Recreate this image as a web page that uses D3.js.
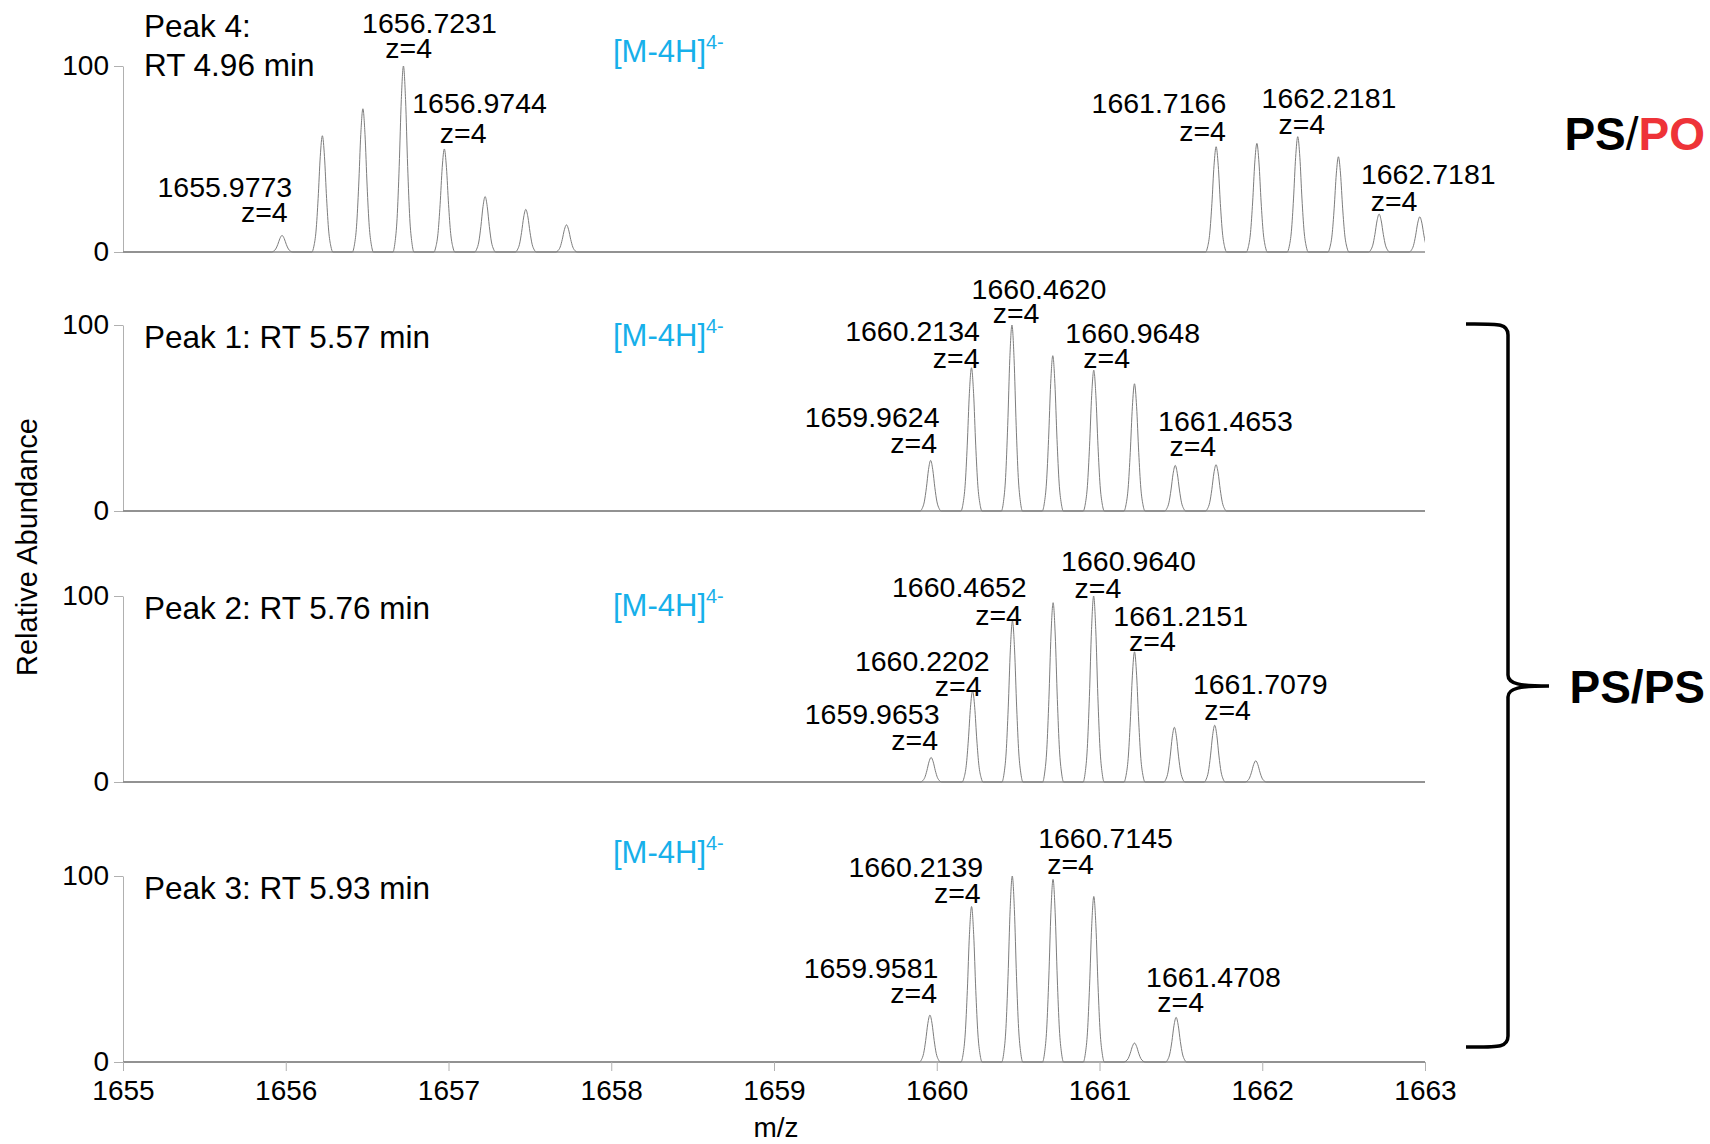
<!DOCTYPE html>
<html>
<head>
<meta charset="utf-8">
<script src="https://cdn.jsdelivr.net/npm/d3@7"></script>
<style>
  body { margin: 0; background: #fff; }
  text { font-family: "Liberation Sans", Arial, Helvetica, sans-serif; }
</style>
</head>
<body>
<div id="chart"></div>
<script>
// ---- data ----
const mzDomain = [1655, 1663];
const xTicks = [1655, 1656, 1657, 1658, 1659, 1660, 1661, 1662, 1663];
const yTicks = [0, 100];

// [m/z, relative abundance]
const peak4Spectrum = [
  [1655.9773, 8.9], [1656.2250, 62.5], [1656.4740, 77], [1656.7231, 100],
  [1656.9744, 55.4], [1657.2250, 29.8], [1657.4750, 22.9], [1657.7250, 14.6],
  [1661.7166, 56.6], [1661.9670, 58.4], [1662.2181, 62], [1662.4680, 51.2],
  [1662.7181, 20.4], [1662.9680, 18.9]
];
const peak1Spectrum = [
  [1659.9624, 27.2], [1660.2134, 77], [1660.4620, 100], [1660.7130, 83.5],
  [1660.9648, 75.7], [1661.2150, 68.4], [1661.4653, 24.5], [1661.7160, 24.9]
];
const peak2Spectrum = [
  [1659.9653, 13.2], [1660.2202, 49], [1660.4652, 86.6], [1660.7150, 96.4],
  [1660.9640, 100], [1661.2151, 70], [1661.4600, 29.4], [1661.7079, 30.5],
  [1661.9600, 11.4]
];
const peak3Spectrum = [
  [1659.9581, 25.2], [1660.2139, 83.6], [1660.4640, 100], [1660.7145, 98.2],
  [1660.9650, 89], [1661.2150, 10.2], [1661.4708, 24]
];

// peak annotations: [text, m/z of text centre, abundance of text centre, m/z of "z=4", abundance of "z=4"]
const peak4Labels = [
  ["1655.9773", 1655.626, 34.9, 1655.868, 21.3],
  ["1656.7231", 1656.883, 123, 1656.755, 109.5],
  ["1656.9744", 1657.191, 79.9, 1657.090, 63.9],
  ["1661.7166", 1661.365, 79.9, 1661.633, 65],
  ["1662.2181", 1662.410, 82.8, 1662.243, 68.6],
  ["1662.7181", 1663.020, 42, 1662.810, 27.2]
];
const peak1Labels = [
  ["1659.9624", 1659.603, 50.6, 1659.858, 36.5],
  ["1660.2134", 1659.851, 97, 1660.119, 82.4],
  ["1660.4620", 1660.628, 119.4, 1660.487, 106.5],
  ["1660.9648", 1661.204, 95.9, 1661.044, 82.4],
  ["1661.4653", 1661.774, 48.2, 1661.573, 34.7]
];
const peak2Labels = [
  ["1659.9653", 1659.603, 36.5, 1659.864, 22.4],
  ["1660.2202", 1659.911, 65.3, 1660.132, 51.8],
  ["1660.4652", 1660.139, 104.7, 1660.380, 90],
  ["1660.9640", 1661.178, 118.8, 1660.990, 104.1],
  ["1661.2151", 1661.499, 89.4, 1661.325, 75.9],
  ["1661.7079", 1661.988, 52.9, 1661.787, 38.8]
];
const peak3Labels = [
  ["1659.9581", 1659.596, 50.6, 1659.858, 37.2],
  ["1660.2139", 1659.871, 104.7, 1660.126, 90.7],
  ["1660.7145", 1661.037, 120.3, 1660.822, 106.4],
  ["1661.4708", 1661.700, 45.9, 1661.499, 32]
];

const panelTitles = [["Peak 4:", "RT 4.96 min"], ["Peak 1: RT 5.57 min"], ["Peak 2: RT 5.76 min"], ["Peak 3: RT 5.93 min"]];
const ionLabel = "[M-4H]";
const ionCharge = "4-";
const zLabel = "z=4";

// ---- layout ----
const W = 1710, H = 1144;
const xLeft = 123, xRight = 1425;
const panelBottom = [252, 511, 782, 1062];
const panelH = 186;
// title / ion label heights in abundance units, per panel
const titleY = [[115.6, 94.6], [87.6], [87.4], [87.6]];
const ionY = [102, 88.7, 89.5, 107];

// relative peak profile (shape of one isotope peak), half width in m/z
const peakHalfWidth = 0.065;
const peakShape = [[-1, 0], [-0.8, 0.05], [-0.6, 0.18], [-0.4, 0.46], [-0.2, 0.82], [0, 1],
                   [0.2, 0.82], [0.4, 0.46], [0.6, 0.18], [0.8, 0.05], [1, 0]];

const panels = [
  {spectrum: peak4Spectrum, labels: peak4Labels},
  {spectrum: peak1Spectrum, labels: peak1Labels},
  {spectrum: peak2Spectrum, labels: peak2Labels},
  {spectrum: peak3Spectrum, labels: peak3Labels}
];

const svg = d3.select('#chart').append('svg')
  .attr('width', W).attr('height', H)
  .style('background', '#fff');

const x = d3.scaleLinear().domain(mzDomain).range([xLeft, xRight]);

svg.append('clipPath').attr('id', 'plotclip')
  .append('rect').attr('x', xLeft).attr('y', 0).attr('width', xRight - xLeft).attr('height', H);

panels.forEach((p, i) => {
  const y = d3.scaleLinear().domain([0, 100]).range([panelBottom[i], panelBottom[i] - panelH]);
  const g = svg.append('g').attr('class', 'panel');

  // y axis
  const yAxis = d3.axisLeft(y).tickValues(yTicks).tickSize(9).tickSizeOuter(0).tickPadding(5);
  const ya = g.append('g').attr('transform', `translate(${xLeft},0)`).call(yAxis);
  ya.select('.domain').attr('stroke', '#b0b0b0');
  ya.selectAll('.tick line').attr('stroke', '#b0b0b0');
  ya.selectAll('.tick text').attr('font-size', 28).attr('fill', '#000')
    .attr('font-family', '"Liberation Sans", Arial, sans-serif');

  // baseline
  g.append('line')
    .attr('x1', x(mzDomain[0])).attr('x2', x(mzDomain[1]))
    .attr('y1', y(0)).attr('y2', y(0))
    .attr('stroke', '#a8a8a8').attr('stroke-width', 2);

  // spectrum trace
  const pts = [[mzDomain[0], 0]];
  p.spectrum.slice().sort((a, b) => a[0] - b[0]).forEach(([mz, ab]) => {
    peakShape.forEach(([u, v]) => pts.push([mz + u * peakHalfWidth, ab * v]));
  });
  pts.push([mzDomain[1] + 0.2, 0]);
  const line = d3.line().x(d => x(d[0])).y(d => y(d[1])).curve(d3.curveMonotoneX);
  g.append('path').datum(pts)
    .attr('d', line)
    .attr('clip-path', 'url(#plotclip)')
    .attr('fill', 'none').attr('stroke', '#7d7d7d').attr('stroke-width', 1);

  // peak annotations
  const lab = g.selectAll('.ann').data(p.labels).enter().append('g').attr('class', 'ann');
  lab.append('text')
    .attr('x', d => x(d[1])).attr('y', d => y(d[2]))
    .attr('text-anchor', 'middle').attr('dominant-baseline', 'central')
    .attr('font-size', 28.5).text(d => d[0]);
  lab.append('text')
    .attr('x', d => x(d[3])).attr('y', d => y(d[4]))
    .attr('text-anchor', 'middle').attr('dominant-baseline', 'central')
    .attr('font-size', 28.5).text(zLabel);

  // panel title
  panelTitles[i].forEach((t, k) => {
    g.append('text').attr('x', 144).attr('y', y(titleY[i][k]))
      .attr('font-size', 31.5).text(t);
  });

  // ion label
  const ion = g.append('text').attr('x', 613).attr('y', y(ionY[i]))
    .attr('font-size', 31).attr('fill', '#17b0ea');
  ion.append('tspan').text(ionLabel);
  ion.append('tspan').attr('dy', -13).attr('font-size', 20).text(ionCharge);
});

// bottom x axis
const xAxis = d3.axisBottom(x).tickValues(xTicks).tickFormat(d3.format('d'))
  .tickSize(9).tickSizeOuter(0).tickPadding(9);
const xa = svg.append('g').attr('transform', `translate(0,${panelBottom[3]})`).call(xAxis);
xa.select('.domain').remove();
xa.selectAll('.tick line').attr('stroke', '#b0b0b0');
xa.selectAll('.tick text').attr('font-size', 28).attr('fill', '#000')
  .attr('font-family', '"Liberation Sans", Arial, sans-serif');

svg.append('text').attr('x', 776).attr('y', 1137)
  .attr('text-anchor', 'middle').attr('font-size', 28).text('m/z');

svg.append('text')
  .attr('transform', 'translate(37,547) rotate(-90)')
  .attr('text-anchor', 'middle').attr('font-size', 29).text('Relative Abundance');

// right-hand labels
const psPo = svg.append('text').attr('x', 1705).attr('y', 150)
  .attr('text-anchor', 'end').attr('font-size', 46).attr('font-weight', 'bold');
psPo.append('tspan').text('PS');
psPo.append('tspan').attr('font-weight', 'normal').text('/');
psPo.append('tspan').attr('fill', '#ee3338').text('PO');

svg.append('text').attr('x', 1705).attr('y', 703)
  .attr('text-anchor', 'end').attr('font-size', 46).attr('font-weight', 'bold')
  .text('PS/PS');

// brace grouping peaks 1-3
const bTop = 324, bBot = 1047, bMid = 686, bx = 1508;
svg.append('path')
  .attr('d', `M1466,${bTop} C1498,${bTop} ${bx},${bTop - 1} ${bx},${bTop + 11} L${bx},${bMid - 11}
    C${bx},${bMid - 2} 1520,${bMid} 1549,${bMid} C1520,${bMid} ${bx},${bMid + 2} ${bx},${bMid + 11}
    L${bx},${bBot - 11} C${bx},${bBot + 1} 1498,${bBot} 1466,${bBot}`)
  .attr('fill', 'none').attr('stroke', '#000').attr('stroke-width', 3.5);
</script>
</body>
</html>
